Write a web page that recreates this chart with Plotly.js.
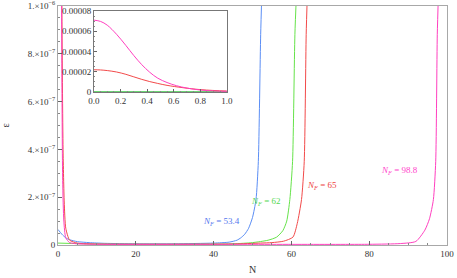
<!DOCTYPE html>
<html>
<head>
<meta charset="utf-8">
<script src="https://cdn.plot.ly/plotly-3.0.1.min.js"></script>
<style>html,body{margin:0;padding:0;background:#fff;}#plot{width:457px;height:278px;}</style>
</head>
<body>
<div id="plot"></div>
<script>
// ---- data ----
const blueN   = [0, 1, 2, 3, 5, 8, 12, 20, 30, 40, 44, 46, 47, 48, 49, 50, 50.9, 51.5, 52.1, 52.4];
const blueEps = [6.5e-8, 4.5e-8, 3.0e-8, 2.2e-8, 1.4e-8, 1.0e-8, 7e-9, 5e-9, 5e-9, 8e-9, 1.2e-8, 2.0e-8, 3.0e-8, 4.5e-8, 7.0e-8, 1.15e-7, 1.9e-7, 3.5e-7, 8.8e-7, 1.05e-6];

const greenN   = [0, 10, 30, 45, 50, 54, 56.2, 57.8, 58.8, 59.6, 60.3, 60.9, 61.3];
const greenEps = [8e-9, 4e-9, 3e-9, 5e-9, 1.0e-8, 2.0e-8, 3.3e-8, 6.0e-8, 1.0e-7, 1.9e-7, 3.5e-7, 8.8e-7, 1.05e-6];

const redN   = [0, 0.05, 0.1, 0.17, 0.24, 0.3, 0.36, 0.42, 0.48, 0.55, 0.67, 0.8, 1.0, 1.3, 1.6, 2, 3, 5, 10, 30, 45, 52, 55, 58, 60.4, 61.5, 62.6, 63.3, 63.8, 64.1];
const redEps = [2.2e-5, 2.18e-5, 2.12e-5, 1.98e-5, 1.75e-5, 1.5e-5, 1.25e-5, 1.03e-5, 8.5e-6, 6.6e-6, 4.3e-6, 2.4e-6, 1.0e-6, 4e-7, 1.8e-7, 7e-8, 2e-8, 8e-9, 4e-9, 3e-9, 4e-9, 8e-9, 1.0e-8, 1.6e-8, 3.3e-8, 9e-8, 1.9e-7, 3.5e-7, 8.8e-7, 1.05e-6];

const magN   = [0, 0.05, 0.1, 0.17, 0.24, 0.3, 0.36, 0.42, 0.48, 0.55, 0.62, 0.7, 0.8, 0.9, 1.0, 1.2, 1.5, 2, 3, 5, 10, 40, 80, 88, 92, 94.3, 95.5, 96.5, 97.1, 97.5, 97.8];
const magEps = [7.1e-5, 6.97e-5, 6.6e-5, 5.7e-5, 4.6e-5, 3.6e-5, 2.7e-5, 1.95e-5, 1.37e-5, 9.4e-6, 6.3e-6, 3.9e-6, 2.0e-6, 1.1e-6, 7e-7, 2.7e-7, 1e-7, 3e-8, 1e-8, 5e-9, 3e-9, 3e-9, 3e-9, 6e-9, 1.5e-8, 6.2e-8, 1.1e-7, 1.9e-7, 3.5e-7, 8.8e-7, 1.05e-6];

const labelText = ["N<sub>F</sub> = 53.4", "N<sub>F</sub> = 62", "N<sub>F</sub> = 65", "N<sub>F</sub> = 98.8"];
const labelN    = [42, 53.3, 67.9, 87.8];
const labelEps  = [1.0e-7, 1.8e-7, 2.5e-7, 3.1e-7];

const mainYTicks = [0, 2e-7, 4e-7, 6e-7, 8e-7, 1e-6];
const mainYText  = ["0", "2.×10<sup>−7</sup>", "4.×10<sup>−7</sup>", "6.×10<sup>−7</sup>", "8.×10<sup>−7</sup>", "1.×10<sup>−6</sup>"];
const mainXTicks = [0, 20, 40, 60, 80, 100];
const insetYTicks = [0, 0.00002, 0.00004, 0.00006, 0.00008];
const insetYText  = ["0", "0.00002", "0.00004", "0.00006", "0.00008"];
const insetXTicks = [0, 0.2, 0.4, 0.6, 0.8, 1.0];
const insetXText  = ["0.0", "0.2", "0.4", "0.6", "0.8", "1.0"];

// ---- styling ----
const colors = ["#5b8ef5", "#66e34a", "#f24a4a", "#ff3fbf"];
const labelColors = ["#5577ee", "#55d855", "#ee4444", "#ff44cc"];
const series = [[blueN, blueEps], [greenN, greenEps], [redN, redEps], [magN, magEps]];

const traces = [];
series.forEach((s, i) => {
  traces.push({x: s[0], y: s[1], type: "scatter", mode: "lines",
    line: {color: colors[i], width: 1, shape: "spline", smoothing: 0.6},
    xaxis: "x", yaxis: "y", hoverinfo: "skip"});
});
// inset (same data)
[0, 1, 2, 3].forEach(i => {
  const s = series[i];
  traces.push({x: s[0], y: s[1], type: "scatter", mode: "lines",
    line: {color: colors[i], width: i < 2 ? 1.6 : 1, shape: "spline", smoothing: 1},
    xaxis: "x2", yaxis: "y2", hoverinfo: "skip"});
});

const ff = "Liberation Serif, Times New Roman, serif";
const font = {family: ff, size: 9, color: "#333"};
const frame = "#a8a8a8";

const annotations = labelText.map((t, i) => ({
  x: labelN[i], y: labelEps[i], xref: "x", yref: "y",
  text: "<i>N<sub>F</sub></i>" + t.slice("N<sub>F</sub>".length),
  showarrow: false, font: {family: ff, size: 9, color: labelColors[i]}
}));

const layout = {
  width: 457, height: 278,
  margin: {l: 58, r: 10, t: 6, b: 33},
  paper_bgcolor: "#fff", plot_bgcolor: "#fff",
  showlegend: false,
  font: font,
  xaxis: {
    range: [0, 100], domain: [0, 1], anchor: "y",
    tickvals: mainXTicks, ticks: "inside", ticklen: 4, tickcolor: "#666",
    minor: {dtick: 5, tick0: 0, ticks: "inside", ticklen: 2, tickcolor: "#888"},
    showgrid: false, zeroline: false, showline: true, linecolor: frame, mirror: true, linewidth: 1,
    tickfont: font, ticklabeloverflow: "allow",
    title: {text: "N", font: {family: ff, size: 10, color: "#333"}, standoff: 8}
  },
  yaxis: {
    range: [0, 1e-6], domain: [0, 1], anchor: "x",
    tickvals: mainYTicks, ticktext: mainYText, ticks: "inside", ticklen: 4, tickcolor: "#666",
    minor: {dtick: 5e-8, tick0: 0, ticks: "inside", ticklen: 2, tickcolor: "#888"},
    showgrid: false, zeroline: false, showline: true, linecolor: frame, mirror: true, linewidth: 1,
    tickfont: font, ticklabeloverflow: "allow",
    title: {text: "ε", font: {family: ff, size: 10, color: "#333"}, standoff: 20}
  },
  xaxis2: {
    range: [0, 1], domain: [0.0925, 0.434], anchor: "y2",
    tickvals: insetXTicks, ticktext: insetXText, ticks: "inside", ticklen: 3, tickcolor: "#666",
    minor: {dtick: 0.05, tick0: 0, ticks: "inside", ticklen: 1.5, tickcolor: "#888"},
    showgrid: false, zeroline: false, showline: true, linecolor: "#777", mirror: true, linewidth: 1,
    tickfont: font, ticklabeloverflow: "allow"
  },
  yaxis2: {
    range: [0, 0.00008], domain: [0.64, 0.979], anchor: "x2",
    tickvals: insetYTicks, ticktext: insetYText, ticks: "inside", ticklen: 3, tickcolor: "#666",
    minor: {dtick: 0.000005, tick0: 0, ticks: "inside", ticklen: 1.5, tickcolor: "#888"},
    showgrid: false, zeroline: false, showline: true, linecolor: "#777", mirror: true, linewidth: 1,
    tickfont: font, ticklabeloverflow: "allow"
  },
  annotations: annotations
};

Plotly.newPlot("plot", traces, layout, {staticPlot: true, displayModeBar: false});
</script>
</body>
</html>
